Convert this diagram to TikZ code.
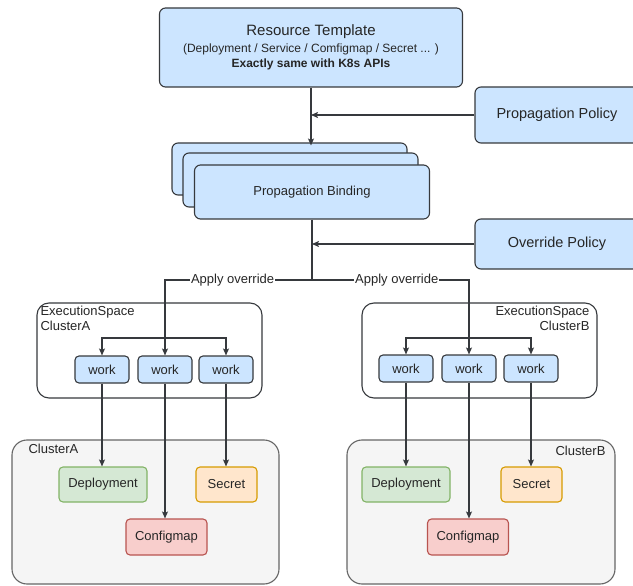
\documentclass[tikz,border=0pt]{standalone}
\usepackage{fontspec}
\setmainfont{Liberation Sans}
\usepackage{tikz}
\usetikzlibrary{arrows.meta}

\definecolor{edge}{HTML}{36393D}
\definecolor{bluefill}{HTML}{CCE5FF}
\definecolor{greyfill}{HTML}{F5F5F5}
\definecolor{greyline}{HTML}{666666}
\definecolor{greenfill}{HTML}{D5E8D4}
\definecolor{greenline}{HTML}{82B366}
\definecolor{orangefill}{HTML}{FFE6CC}
\definecolor{orangeline}{HTML}{D79B00}
\definecolor{redfill}{HTML}{F8CECC}
\definecolor{redline}{HTML}{B85450}

\tikzset{
  box/.style={draw=edge,fill=bluefill,rounded corners=6pt,inner sep=0pt,text=black!85,font=\fontsize{13}{15}\selectfont},
  workbox/.style={box,rounded corners=4pt,minimum width=54,minimum height=27},
  space/.style={draw=edge,fill=white,rounded corners=12pt,minimum width=#1,minimum height=95},
  cluster/.style={draw=greyline,fill=greyfill,rounded corners=15pt,minimum width=#1,minimum height=144},
  res/.style={box,rounded corners=4pt,minimum height=35},
  lbl/.style={fill=white,inner sep=1pt,text=black!85,font=\fontsize{13}{15}\selectfont},
  tag/.style={inner sep=0pt,text=black!85,font=\fontsize{13}{15}\selectfont}
}

\begin{document}
\begin{tikzpicture}[x=1pt,y=-1pt,>={Stealth[length=7pt,width=6pt,inset=1.5pt]},line width=1.1pt,draw=edge]
\useasboundingbox (0,0) rectangle (633,586);
\clip (0,0) rectangle (633,586);

% top part
\node[box,minimum width=303,minimum height=79,align=center] (tmpl) at (311,47.5)
  {{\fontsize{15}{16}\selectfont Resource Template}\\[2pt]
   {\fontsize{12}{15}\selectfont (Deployment / Service / Comfigmap / Secret ... )}\\
   {\fontsize{12}{15}\selectfont\bfseries Exactly same with K8s APIs}};
\node[box,minimum width=164,minimum height=56] (ppol) at (557,115) {\fontsize{14.5}{16}\selectfont Propagation Policy};
\node[box,minimum width=164,minimum height=50] (opol) at (557,244) {\fontsize{14.5}{16}\selectfont Override Policy};
\node[box,minimum width=235,minimum height=52] (bindC) at (289.5,169) {};
\node[box,minimum width=235,minimum height=54] (bindB) at (300.5,180) {};
\node[box,minimum width=235,minimum height=54] (bind) at (312,192) {Propagation Binding};

% execution spaces
\node[space=225] (execA) at (149.5,350.5) {};
\node[tag,anchor=north west,align=left] (execAl) at (40,306) {ExecutionSpace\\ClusterA};
\node[space=235] (execB) at (479.5,350.5) {};
\node[tag,anchor=north east,align=right] (execBl) at (590,306) {ExecutionSpace\\ClusterB};
\foreach \n/\x/\y in {A1/102/369.5,A2/165/369.5,A3/226/369.5,B1/406/368.5,B2/469/368.5,B3/531/368.5}
  \node[workbox] (w\n) at (\x,\y) {work};

% member clusters
\node[cluster=267] (clusA) at (145.5,512) {};
\node[tag,anchor=north west] (clusAl) at (28,444) {ClusterA};
\node[cluster=268] (clusB) at (481,512) {};
\node[tag,anchor=north east] (clusBl) at (606,446) {ClusterB};
\foreach \c/\d/\s/\m in {A/103/226.5/166.5,B/406/531.5/468} {
  \node[res,fill=greenfill,draw=greenline,minimum width=88] (dep\c) at (\d,484.5) {Deployment};
  \node[res,fill=orangefill,draw=orangeline,minimum width=61] (sec\c) at (\s,484.5) {Secret};
  \node[res,fill=redfill,draw=redline,minimum width=81,minimum height=36] (cm\c) at (\m,537) {Configmap};
}

% connectors
\draw[->] (tmpl.south) -- ([yshift=-3]tmpl.south |- bindC.north);
\draw[->] (ppol.west) -- (ppol.west -| tmpl.south);
\coordinate (split) at (bind.south |- 0,280);
\draw (bind.south) -- (split);
\draw[->] (opol.west) -- (opol.west -| bind.south);
\draw[->] (split) -| node[lbl,pos=0.27] {Apply override} (wA2.north);
\draw[->] (split) -| node[lbl,pos=0.27] {Apply override} (wB2.north);
\foreach \c in {A,B} {
  \coordinate (fork\c) at (w\c2.north |- 0,338);
  \draw[->] (fork\c) -| (w\c1.north);
  \draw[->] (fork\c) -| (w\c3.north);
  \draw[->] (w\c1.south) -- (w\c1.south |- dep\c.north);
  \draw[->] (w\c2.south) -- (w\c2.south |- cm\c.north);
  \draw[->] (w\c3.south) -- (w\c3.south |- sec\c.north);
}
\end{tikzpicture}
\end{document}
